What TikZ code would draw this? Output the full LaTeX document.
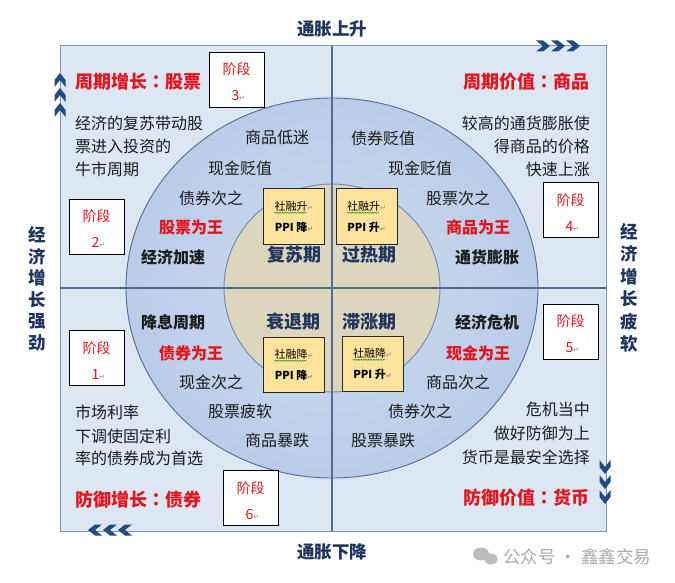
\documentclass[tikz,border=0pt]{standalone}
\usepackage{fontspec}
\setmainfont{Noto Sans CJK SC}
\newfontfamily\dvfont{DejaVu Sans}
\newfontfamily\tcfont{Noto Sans CJK TC}
\usetikzlibrary{decorations.pathmorphing}
\definecolor{navyt}{HTML}{1F355E}
\definecolor{chevc}{HTML}{1F4B87}
\definecolor{redt}{HTML}{E3141B}
\definecolor{bgblue}{HTML}{DDE7F4}
\definecolor{ringin}{HTML}{CFDCF1}
\definecolor{ringout}{HTML}{B9CCE8}
\definecolor{coreb}{HTML}{DCD6BF}
\definecolor{linec}{HTML}{4F6C95}
\definecolor{framec}{HTML}{7F95B7}
\definecolor{ppiy}{HTML}{FDE39C}
\definecolor{bodyt}{HTML}{1C1C1C}
\definecolor{wmark}{HTML}{ABABAB}
\newcommand\retmark{{\dvfont\fontsize{7}{7}\selectfont\color{black!45}↵}}
\newcommand\ccolon{{\tcfont\bfseries ：}}
\begin{document}
\begin{tikzpicture}[x=1pt,y=-1pt,
 body/.style={inner sep=0, font=\fontsize{16}{16}\selectfont, text=bodyt},
 bodyb/.style={inner sep=0, font=\fontsize{16}{16}\selectfont\bfseries, text=bodyt},
 kingt/.style={inner sep=0, font=\fontsize{16}{16}\selectfont\bfseries, text=redt},
 headt/.style={inner sep=0, font=\fontsize{18}{18}\selectfont\bfseries, text=redt},
 axist/.style={inner sep=0, font=\fontsize{17.5}{17.5}\selectfont\bfseries, text=navyt},
 vaxis/.style={inner sep=0, align=center, text=navyt},
 periodt/.style={inner sep=0, font=\fontsize{18}{18}\selectfont\bfseries, text=navyt},
 stagebox/.style={draw=black, line width=0.8pt, fill=white, minimum width=55pt, minimum height=55pt, inner sep=0},
 stagelbl/.style={inner sep=0, font=\fontsize{14}{14}\selectfont, text=redt},
 ppibox/.style={draw=black!85, line width=1pt, fill=ppiy, minimum width=61pt, minimum height=55pt, inner sep=0},
 ppit/.style={inner sep=0, font=\fontsize{11}{11}\selectfont, text=black},
 ppib/.style={inner sep=0, font=\fontsize{11}{11}\selectfont\bfseries, text=black},
 squig/.style={draw=green!55!black, line width=0.4pt, decorate, decoration={snake, amplitude=0.6pt, segment length=2.5pt}},
 chev/.pic={\fill[chevc] (-7,-5.5) -- (0,-5.5) -- (7,0) -- (0,5.5) -- (-7,5.5) -- (0,0) -- cycle;},
 wm/.style={inner sep=0, font=\fontsize{17.5}{17.5}\selectfont, text=wmark}
]
\useasboundingbox (0,0) rectangle (675,583);
\fill[white] (0,0) rectangle (675,583);
% frame
\draw[framec, line width=1pt, fill=bgblue] (60,46) rectangle (606,531);
% rings
\draw[linec, line width=0.9pt, inner color=ringin, outer color=ringout] (332,288) ellipse [x radius=206, y radius=190];
\draw[linec!80, line width=0.9pt, fill=coreb] (332,288) ellipse [x radius=108, y radius=104];
% axes
\coordinate (vt) at (332,46); \coordinate (vb) at (332,531);
\coordinate (hl) at (60,288); \coordinate (hr) at (606,288);
\draw[linec, line width=1.2pt] (vt) -- (vb);
\draw[linec, line width=1.2pt] (hl) -- (hr);
% chevrons
\foreach \cx in {543,558,573} \pic at (\cx,46) {chev};
\foreach \cx in {95,110,125} \pic[rotate=180] at (\cx,530) {chev};
\foreach \cy in {80,95,110} \pic[rotate=90] at (60,\cy) {chev};
\foreach \cy in {467,482,497} \pic[rotate=-90] at (605,\cy) {chev};
% axis labels
\node[axist] (up) at (332,29) {通胀上升};
\node[axist] (down) at (332,552) {通胀下降};
\node[vaxis, font=\fontsize{17.5}{21.5}\selectfont\bfseries] (strong) at (37,289) {经\\济\\增\\长\\强\\劲};
\node[vaxis, font=\fontsize{17.5}{22.5}\selectfont\bfseries] (weak) at (629,288) {经\\济\\增\\长\\疲\\软};
% stage boxes
\foreach \nm/\cx/\cy/\num in {s3/236.5/79.5/3, s2/96.5/226.5/2, s4/570.5/210/4, s1/96.5/358/1, s6/250.5/498/6, s5/570.5/331.5/5}{
  \node[stagebox] (\nm) at (\cx,\cy) {};
  \node[stagelbl] (\nm a) at ([yshift=-18pt]\nm.north) {阶段};
  \node[stagelbl] (\nm b) at ([xshift=2pt,yshift=-44pt]\nm.north) {\num\retmark};
}
% PPI boxes
\foreach \nm/\cx/\cy/\la/\lb in {p1/294/216.5/升/降, p2/366.5/216.5/升/升, p3/294/364.5/降/降, p4/372.5/363.5/降/升}{
  \node[ppibox] (\nm) at (\cx,\cy) {};
  \node[ppit] (\nm a) at ([yshift=10.5pt]\nm.center) {社融\la\retmark};
  \node[ppib] (\nm b) at ([yshift=-10.5pt]\nm.center) {PPI \lb\retmark};
  \draw[squig] ([yshift=-1.5pt]\nm a.south west) -- ([xshift=-7pt,yshift=-1.5pt]\nm a.south east);
}
% periods
\node[periodt] (fs) at (294,255) {复苏期};
\node[periodt] (gr) at (369,255) {过热期};
\node[periodt] (st) at (293,322) {衰退期};
\node[periodt] (zz) at (369,322) {滞涨期};
% TL quadrant
\node[headt, anchor=west] (h1) at (75,82) {周期增长\ccolon 股票};
\node[body, anchor=west] (d1a) at (75,123) {经济的复苏带动股};
\node[body, anchor=west] (d1b) at (75,146) {票进入投资的};
\node[body, anchor=west] (d1c) at (75,169) {牛市周期};
\node[body] (q1a) at (277,137) {商品低迷};
\node[body] (q1b) at (240,168) {现金贬值};
\node[body] (q1c) at (211,198) {债券次之};
\node[kingt] (q1d) at (191,227) {股票为王};
\node[bodyb] (q1e) at (173,257) {经济加速};
% TR quadrant
\node[headt, anchor=east] (h2) at (590,82) {周期价值\ccolon 商品};
\node[body, anchor=east] (d2a) at (590,123) {较高的通货膨胀使};
\node[body, anchor=east] (d2b) at (590,146) {得商品的价格};
\node[body, anchor=east] (d2c) at (590,169) {快速上涨};
\node[body] (q2a) at (383,138) {债券贬值};
\node[body] (q2b) at (420,168) {现金贬值};
\node[body] (q2c) at (458,198) {股票次之};
\node[kingt] (q2d) at (478,227) {商品为王};
\node[bodyb] (q2e) at (487,257) {通货膨胀};
% BL quadrant
\node[bodyb] (q3a) at (173,322) {降息周期};
\node[kingt] (q3b) at (191,353) {债券为王};
\node[body] (q3c) at (211,382) {现金次之};
\node[body] (q3d) at (240,411) {股票疲软};
\node[body] (q3e) at (277,440) {商品暴跌};
\node[body, anchor=west] (d3a) at (75,412) {市场利率};
\node[body, anchor=west] (d3b) at (75,436) {下调使固定利};
\node[body, anchor=west] (d3c) at (75,458) {率的债券成为首选};
\node[headt, anchor=west] (h3) at (75,500) {防御增长\ccolon 债券};
% BR quadrant
\node[bodyb] (q4a) at (487,322) {经济危机};
\node[kingt] (q4b) at (478,353) {现金为王};
\node[body] (q4c) at (458,382) {商品次之};
\node[body] (q4d) at (420,411) {债券次之};
\node[body] (q4e) at (383,440) {股票暴跌};
\node[body, anchor=east] (d4a) at (590,409) {危机当中};
\node[body, anchor=east] (d4b) at (590,433) {做好防御为上};
\node[body, anchor=east] (d4c) at (590,457) {货币是最安全选择};
\node[headt, anchor=east] (h4) at (590,498) {防御价值\ccolon 货币};
% watermark
\fill[wmark!80] (481,554) ellipse [x radius=8, y radius=6.5];
\fill[wmark!80] (491,559) ellipse [x radius=6.5, y radius=5.5];
\node[wm, anchor=west] (wmt) at (503,557) {公众号 · 鑫鑫交易};
\end{tikzpicture}
\end{document}
